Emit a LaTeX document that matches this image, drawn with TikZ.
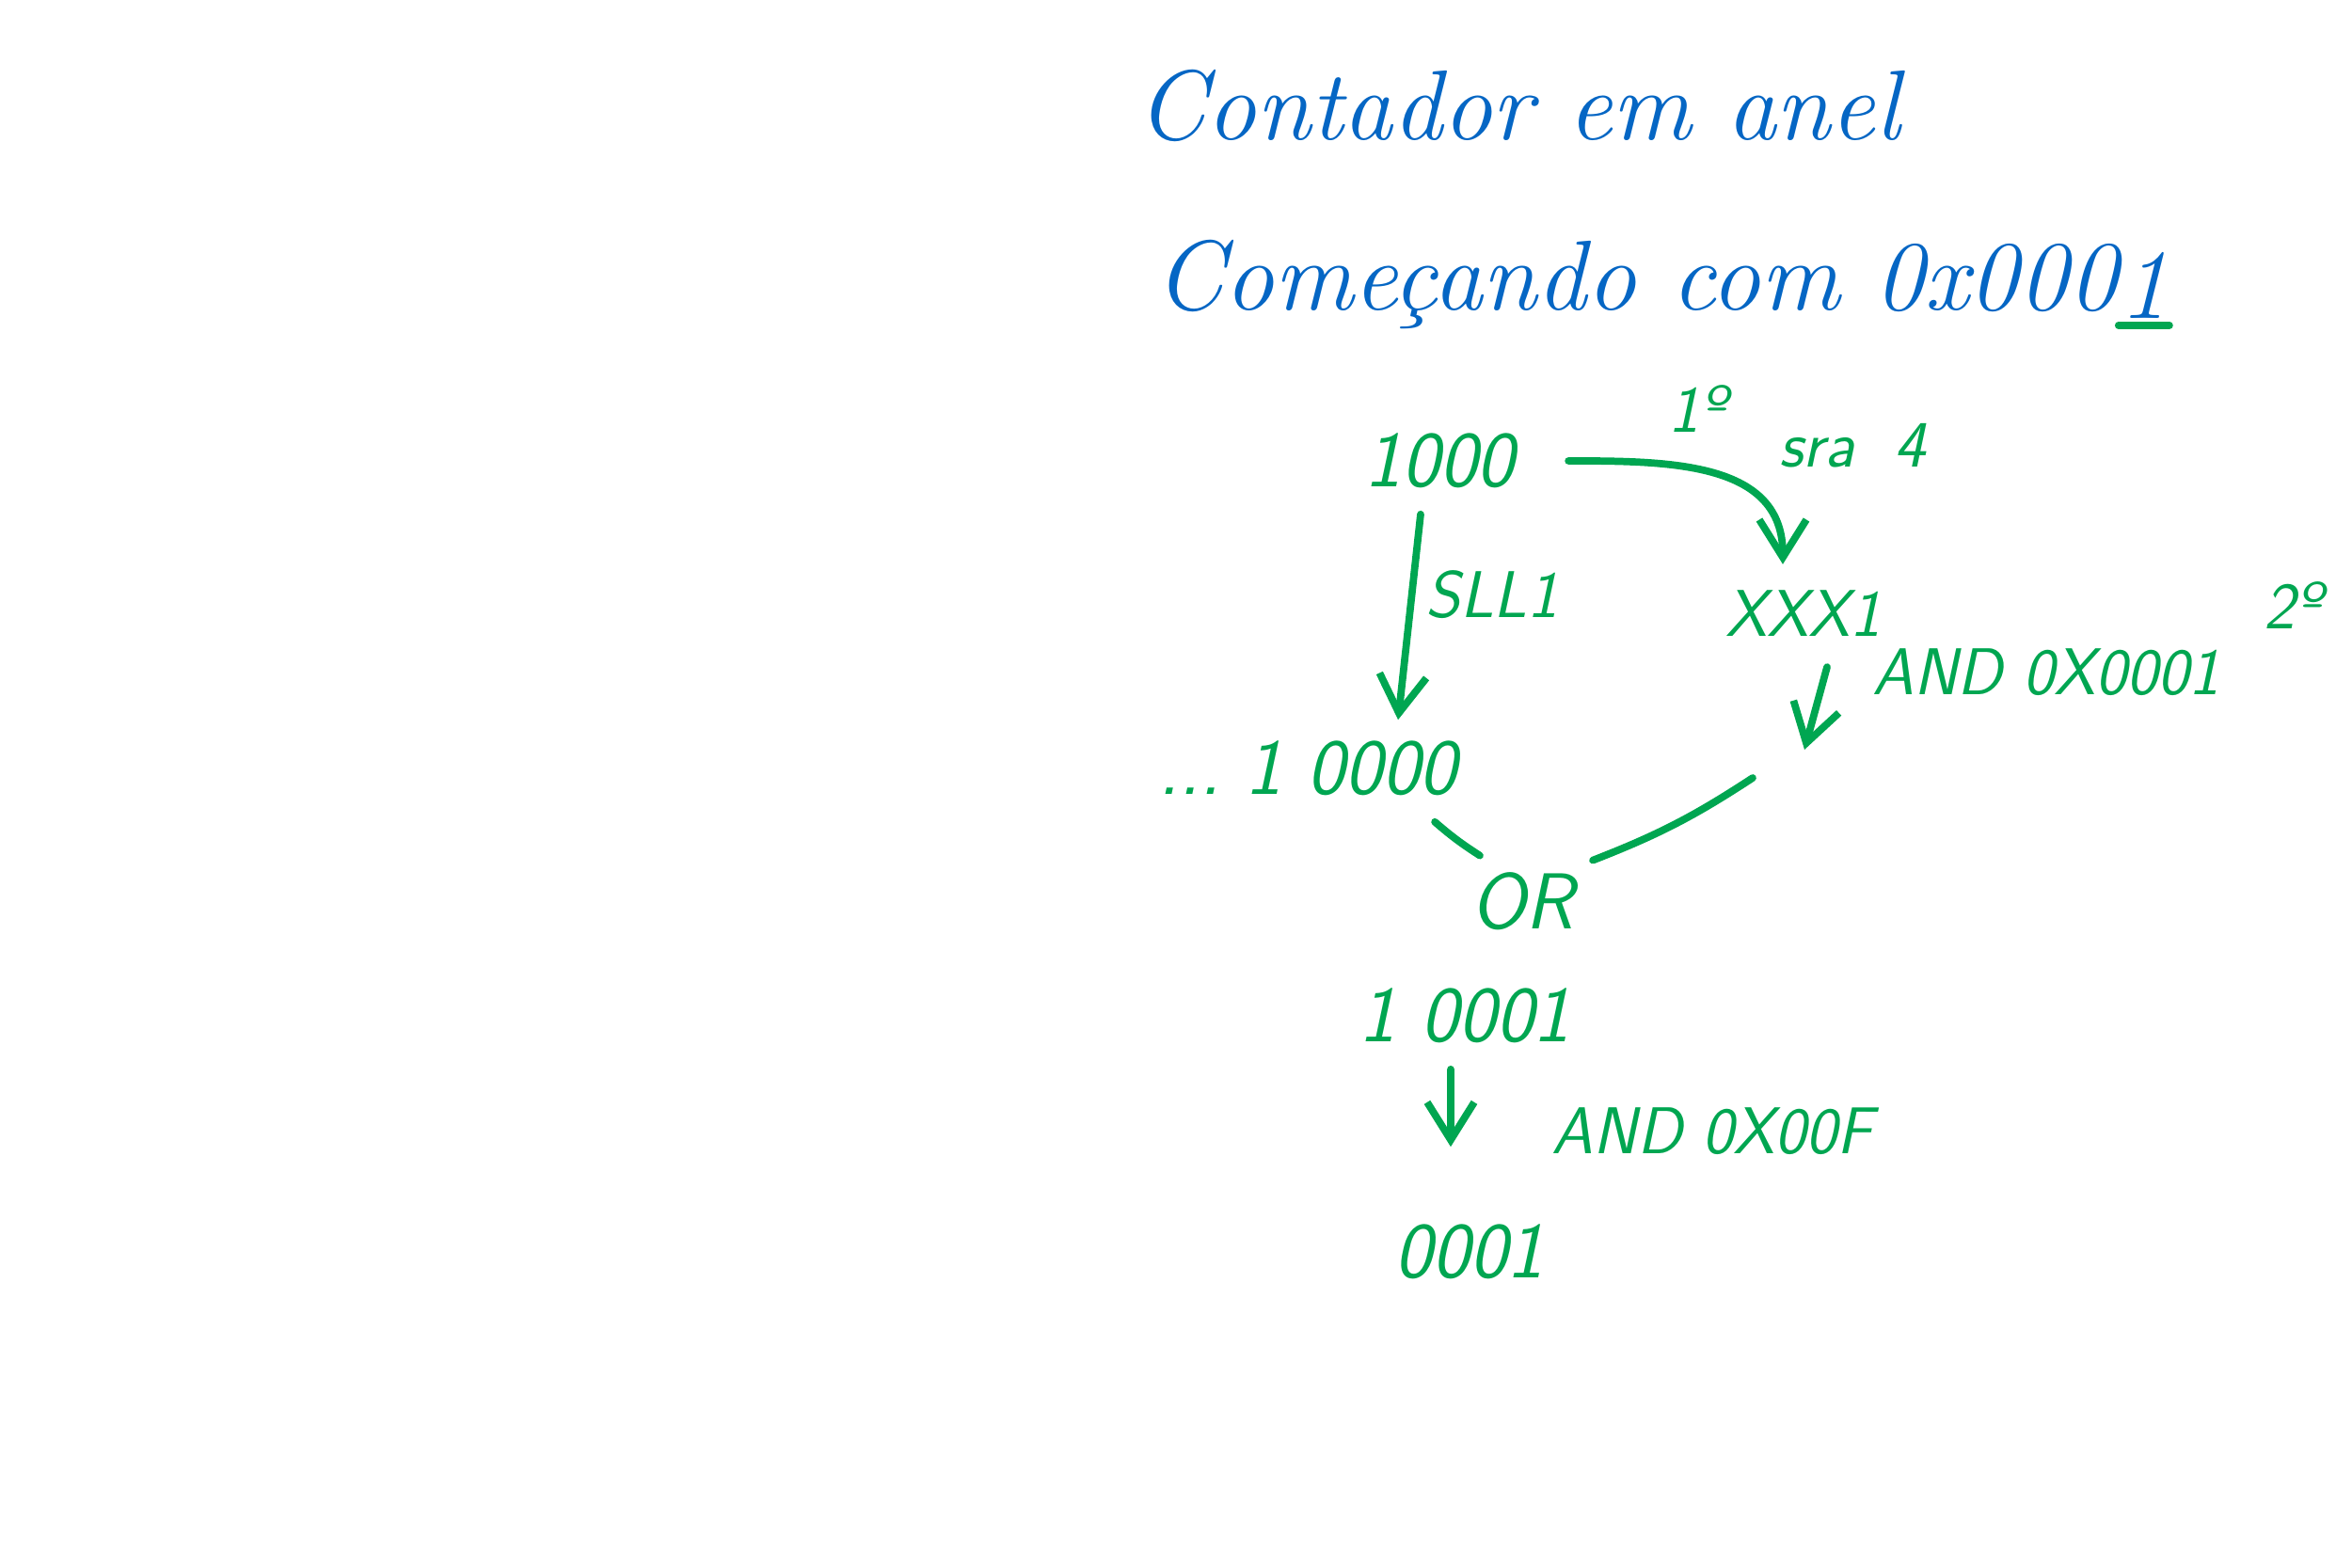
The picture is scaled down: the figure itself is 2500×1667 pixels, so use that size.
\documentclass[tikz,border=0pt]{standalone}
\usepackage{tikz}
\usetikzlibrary{arrows.meta,positioning}

\definecolor{inkblue}{RGB}{5,102,196}
\definecolor{inkgreen}{RGB}{0,166,81}

\begin{document}
\begin{tikzpicture}[
    x=0.01cm, y=0.01cm,
    >={Straight Barb[length=4mm,width=5mm]},
    title/.style={
		text=inkblue,
		inner sep=0pt,
		font=\fontsize{30}{36}\selectfont\itshape
	},
	value/.style={
		text=inkgreen,
		inner sep=2pt,
		font=\fontsize{24}{28}\selectfont\sffamily\itshape
	},
	op/.style={
		text=inkgreen,
		inner sep=2pt,
		font=\fontsize{20}{24}\selectfont\sffamily\itshape
	},
	wire/.style={
		draw=inkgreen,
		line width=2.2pt,
		line cap=round
	}
  ]
  \useasboundingbox (0,0) rectangle (2500,1667);

    % headings
  \node [title, anchor=west] (heading) at (1208,1555) {Contador em anel};
  \node [title, anchor=west] (start) at (1227,1364) {Começando com 0x000};
  \node [title, right=0pt of start] (startbit) {1};
  \draw [wire] ([yshift=-2pt]startbit.south west) -- ([yshift=-2pt]startbit.south east);

    % values
  \node [value] (n1000) at (1530,1177) {1000};
  \node [op] (xxx1) at (1917,1015) {XXX1};
  \node [value] (n10000) at (1390,850) {...\ 1 0000};
  \node [value] (or) at (1618,709) {OR};
  \node [value] (n10001) at (1557,587) {1 0001};
  \node [value] (n0001) at (1562,336) {0001};
  \coordinate (andres) at (1918,870);

    % operations
  \node [op] (first) at (1804,1232) {1º};
  \node [op] (sra) at (1969,1193) {sra\hspace{0.6em}4};
  \node [op] (sll) at (1586,1035) {SLL1};
  \node [op] (and1) at (2175,952) {AND 0X0001};
  \node [op] (second) at (2437,1023) {2º};
  \node [op] (and2) at (1820,464) {AND 0X00F};

    % connectors
  \draw [wire,->] (n1000.east) ++(0.5cm,0) to [out=0,in=90,looseness=1.1] ([xshift=-0.22cm,yshift=0.2cm]xxx1.north);
  \draw [wire,->] ([xshift=-0.2cm,yshift=-0.2cm]n1000.south) -- ([xshift=0.96cm,yshift=0.15cm]n10000.north);
  \draw [wire,->] ([xshift=0.25cm,yshift=-0.25cm]xxx1.south) -- (andres);
  \draw [wire] ([xshift=1.35cm,yshift=-0.2cm]n10000.south) to [bend right=4] ([xshift=-0.45cm,yshift=0.1cm]or.north);
  \draw [wire] ([xshift=-0.55cm,yshift=-0.3cm]andres) to [bend left=6] ([xshift=0.75cm,yshift=0.05cm]or.north);
  \draw [wire,->] ([xshift=-0.15cm,yshift=-0.2cm]n10001.south) -- ([xshift=-0.2cm,yshift=0.75cm]n0001.north);

\end{tikzpicture}
\end{document}
